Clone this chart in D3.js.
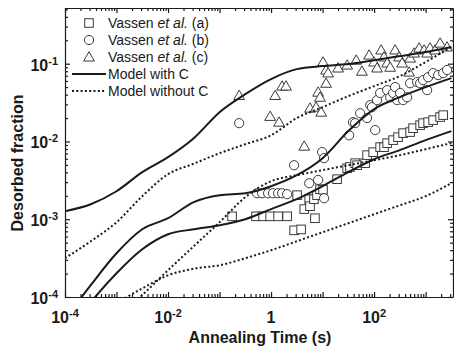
<!DOCTYPE html>
<html lang="en">
<head>
<meta charset="UTF-8">
<title>Desorbed fraction vs annealing time</title>
<script src="https://d3js.org/d3.v7.min.js"></script>
<style>
  body { margin: 0; background: #fff; }
  svg { display: block; font-family: Arial, "Liberation Sans", sans-serif; }
  text { white-space: pre; }
</style>
</head>
<body>
<script>
// time grid (s) shared by the model curves, half-decade steps
const modelTime = [1e-4, 3.16e-4, 1e-3, 3.16e-3, 0.01, 0.0316, 0.1, 0.316, 1, 3.16, 10, 31.6, 100, 316, 1000, 3160];

// model with C (solid)
const withC_a = [3.12e-5, 8.55e-5, 2.02e-4, 4.11e-4, 6.41e-4, 7.43e-4, 8.38e-4, 1.0e-3, 1.35e-3, 1.81e-3, 2.66e-3, 4.03e-3, 5.91e-3, 7.73e-3, 0.0104, 0.0136];
const withC_b = [5.16e-5, 1.42e-4, 3.65e-4, 7.43e-4, 1.03e-3, 1.66e-3, 2.04e-3, 2.16e-3, 2.66e-3, 3.68e-3, 6.10e-3, 0.0136, 0.0261, 0.0372, 0.0500, 0.0653];
const withC_c = [1.27e-3, 1.56e-3, 2.29e-3, 4.03e-3, 6.28e-3, 0.0110, 0.0238, 0.0406, 0.0634, 0.0851, 0.0931, 0.0989, 0.111, 0.125, 0.141, 0.164];

// model without C (dotted)
const noC_a = [2.77e-5, 5.01e-5, 8.30e-5, 1.29e-4, 1.90e-4, 2.31e-4, 2.56e-4, 3.15e-4, 3.99e-4, 5.21e-4, 6.80e-4, 8.89e-4, 1.16e-3, 1.51e-3, 1.98e-3, 2.91e-3];
const noC_b = [1.28e-5, 2.61e-5, 5.32e-5, 1.06e-4, 2.21e-4, 4.50e-4, 9.14e-4, 1.92e-3, 3.08e-3, 3.68e-3, 4.28e-3, 4.95e-3, 5.74e-3, 6.67e-3, 7.96e-3, 9.51e-3];
const noC_c = [3.15e-4, 5.21e-4, 9.14e-4, 1.98e-3, 3.79e-3, 5.18e-3, 7.06e-3, 9.22e-3, 0.0120, 0.0200, 0.0276, 0.0383, 0.0515, 0.0692, 0.105, 0.164];

// measured points [time (s), desorbed fraction]
const vassenA = [[0.175,1.09e-3],[0.51,1.09e-3],[0.70,1.09e-3],[0.96,1.09e-3],[1.37,1.09e-3],[2.05,1.09e-3],
  [2.8,7.2e-4],[3.2,2.04e-3],[3.83,7.4e-4],[4.4,1.35e-3],[5.5,1.81e-3],[5.7,1.47e-3],[6.8,1.81e-3],[7.1,1.03e-3],
  [7.8,2.04e-3],[8.9,2.43e-3],[10.2,2.4e-3],[19.1,3.27e-3],[30,4.53e-3],[34,4.7e-3],[42.8,5.26e-3],[46.8,4.95e-3],
  [67,5.26e-3],[73,6.67e-3],[96,7.28e-3],[131,8.45e-3],[156,8.45e-3],[179,9.5e-3],[234,0.0104],[292,0.01135],
  [366,0.0128],[500,0.0132],[571,0.0148],[782,0.0162],[893,0.0172],[1120,0.0177],[1400,0.0188],[1910,0.0206],[2190,0.0218]];
const vassenB = [[0.24,0.0172],[0.535,2.16e-3],[0.67,2.16e-3],[0.875,2.16e-3],[1.09,2.16e-3],[1.37,2.16e-3],[1.64,2.16e-3],
  [2.05,2.1e-3],[2.8,4.95e-3],[5.5,2.9e-3],[8.2,3.2e-3],[9.8,7.3e-3],[10.7,6.1e-3],[10.7,1.86e-3],[32.7,0.012],
  [39,0.0177],[42.8,0.0172],[53.5,0.0231],[73,0.020],[84,0.0293],[91,0.0276],[105,0.014],[114,0.034],[131,0.042],
  [179,0.0457],[205,0.037],[234,0.042],[256,0.050],[280,0.034],[320,0.042],[366,0.034],[437,0.037],[500,0.056],
  [684,0.058],[782,0.056],[893,0.0615],[1070,0.0457],[1120,0.067],[1400,0.0757],[1750,0.0713],[2190,0.0757],[2610,0.083]];
const vassenC = [[0.24,0.039],[0.96,0.021],[1.2,0.039],[1.43,0.0177],[1.64,0.0515],[1.95,0.0515],[4.4,0.0087],
  [5.7,0.0268],[7.5,0.0276],[8.2,0.043],[8.9,0.037],[9.4,0.0238],[10.2,0.105],[11.7,0.083],[12.8,0.076],[11.7,0.056],
  [20,0.088],[30,0.096],[45,0.111],[58,0.080],[80,0.129],[100,0.105],[114,0.088],[137,0.150],[156,0.122],[179,0.102],
  [205,0.090],[256,0.150],[306,0.122],[350,0.102],[478,0.078],[500,0.118],[598,0.137],[748,0.159],[935,0.150],
  [1070,0.137],[1220,0.159],[1530,0.150],[1910,0.184],[2610,0.164]];

// tick labels
const xLabelTicks = [1e-4, 1e-2, 1, 1e2];
const yLabelTicks = [1e-4, 1e-3, 1e-2, 1e-1];
const legendLabels = ["(a)", "(b)", "(c)", "Model with C", "Model without C"];

const W = 454, H = 352;
const svg = d3.select("body").append("svg").attr("width", W).attr("height", H);

const x = d3.scaleLog().domain([1e-4, 3400]).range([65, 453]);
const y = d3.scaleLog().domain([1e-4, 0.52]).range([297, 8]);
const ink = "#1a1a1a";

// major / minor tick values
function decades(lo, hi) {
  const out = [];
  for (let e = Math.floor(Math.log10(lo)); e <= Math.ceil(Math.log10(hi)); e++) {
    const v = Math.pow(10, e);
    if (v >= lo * 0.999 && v <= hi * 1.001) out.push(v);
  }
  return out;
}
function minors(lo, hi) {
  const out = [];
  for (let e = Math.floor(Math.log10(lo)); e <= Math.ceil(Math.log10(hi)); e++) {
    for (let k = 2; k <= 9; k++) {
      const v = k * Math.pow(10, e);
      if (v > lo && v < hi) out.push(v);
    }
  }
  return out;
}
const xMaj = decades(...x.domain()), xMin = minors(...x.domain());
const yMaj = decades(...y.domain()), yMin = minors(...y.domain());

function axisSet(axisFn, scale, maj, mn, transform) {
  const g = svg.append("g").attr("transform", transform);
  g.call(axisFn(scale).tickValues(maj).tickSize(-5).tickSizeOuter(0).tickFormat(""));
  g.append("g").call(axisFn(scale).tickValues(mn).tickSize(-3).tickSizeOuter(0).tickFormat(""))
    .select(".domain").remove();
  g.selectAll("path, line").attr("stroke", ink).attr("stroke-width", 1.2);
}
axisSet(d3.axisBottom, x, xMaj, xMin, "translate(0,297)");
axisSet(d3.axisTop, x, xMaj, xMin, "translate(0,8)");
axisSet(d3.axisLeft, y, yMaj, yMin, "translate(65,0)");
axisSet(d3.axisRight, y, yMaj, yMin, "translate(453,0)");

// tick labels with superscript exponents
function powLabel(sel, v) {
  const e = Math.round(Math.log10(v));
  if (e === 0) { sel.append("tspan").text("1"); return; }
  sel.append("tspan").text("10");
  sel.append("tspan").attr("dy", -6).attr("font-size", 11).text(String(e));
}
xLabelTicks.forEach(v => {
  const t = svg.append("text").attr("x", x(v)).attr("y", 322.5)
    .attr("text-anchor", "middle").attr("font-size", 16).attr("font-weight", "bold").attr("fill", ink);
  powLabel(t, v);
});
yLabelTicks.forEach(v => {
  const t = svg.append("text").attr("x", 58).attr("y", y(v) + 7)
    .attr("text-anchor", "end").attr("font-size", 16).attr("font-weight", "bold").attr("fill", ink);
  powLabel(t, v);
});

// axis titles
svg.append("text").attr("x", 260).attr("y", 343).attr("text-anchor", "middle")
  .attr("font-size", 16).attr("font-weight", "bold").attr("fill", ink).text("Annealing Time (s)");
svg.append("text").attr("transform", "translate(23,163) rotate(-90)").attr("text-anchor", "middle")
  .attr("font-size", 16).attr("font-weight", "bold").attr("fill", ink).text("Desorbed fraction");

// clip to plot frame
svg.append("clipPath").attr("id", "plot").append("rect")
  .attr("x", 65).attr("y", 8).attr("width", 388).attr("height", 289);
const plot = svg.append("g").attr("clip-path", "url(#plot)");

// markers
const markerStroke = "#3a3a3a";
const triPath = "M0,-5.3L5.4,4L-5.4,4Z";
function drawSquares(g, pts) {
  g.selectAll(null).data(pts).enter().append("rect")
    .attr("x", d => x(d[0]) - 4.3).attr("y", d => y(d[1]) - 4.3)
    .attr("width", 8.6).attr("height", 8.6)
    .attr("fill", "#fff").attr("stroke", markerStroke).attr("stroke-width", 1);
}
function drawCircles(g, pts) {
  g.selectAll(null).data(pts).enter().append("circle")
    .attr("cx", d => x(d[0])).attr("cy", d => y(d[1])).attr("r", 4.6)
    .attr("fill", "#fff").attr("stroke", markerStroke).attr("stroke-width", 1);
}
function drawTriangles(g, pts) {
  g.selectAll(null).data(pts).enter().append("path")
    .attr("transform", d => `translate(${x(d[0])},${y(d[1])})`).attr("d", triPath)
    .attr("fill", "#fff").attr("stroke", markerStroke).attr("stroke-width", 1);
}
const sortT = a => a.slice().sort((p, q) => p[0] - q[0]);
drawSquares(plot.append("g"), sortT(vassenA));
drawCircles(plot.append("g"), sortT(vassenB));
drawTriangles(plot.append("g"), sortT(vassenC));

// model curves
const line = d3.line().x(d => x(d[0])).y(d => y(d[1])).curve(d3.curveMonotoneX);
function drawModel(vals, dotted) {
  plot.append("path").datum(modelTime.map((t, i) => [t, vals[i]]))
    .attr("d", line).attr("fill", "none").attr("stroke", ink)
    .attr("stroke-width", 2)
    .attr("stroke-dasharray", dotted ? "2,2.3" : null);
}
[withC_a, withC_b, withC_c].forEach(v => drawModel(v, false));
[noC_a, noC_b, noC_c].forEach(v => drawModel(v, true));

// legend
const legRows = [23, 40, 57, 74, 91];
const leg = svg.append("g");
drawSquares(leg, [[x.invert(89), y.invert(legRows[0])]]);
drawCircles(leg, [[x.invert(89), y.invert(legRows[1])]]);
drawTriangles(leg, [[x.invert(89), y.invert(legRows[2])]]);
leg.append("line").attr("x1", 72).attr("x2", 106).attr("y1", legRows[3]).attr("y2", legRows[3])
  .attr("stroke", ink).attr("stroke-width", 2);
leg.append("line").attr("x1", 72).attr("x2", 106).attr("y1", legRows[4]).attr("y2", legRows[4])
  .attr("stroke", ink).attr("stroke-width", 2).attr("stroke-dasharray", "2,2.3");
legendLabels.forEach((lab, i) => {
  const t = leg.append("text").attr("x", 108).attr("y", legRows[i] + 5)
    .attr("font-size", 14).attr("fill", ink);
  if (i < 3) {
    t.append("tspan").text("Vassen ");
    t.append("tspan").attr("font-style", "italic").text("et al.");
    t.append("tspan").text(" " + lab);
  } else {
    t.text(lab);
  }
});
</script>
</body>
</html>
